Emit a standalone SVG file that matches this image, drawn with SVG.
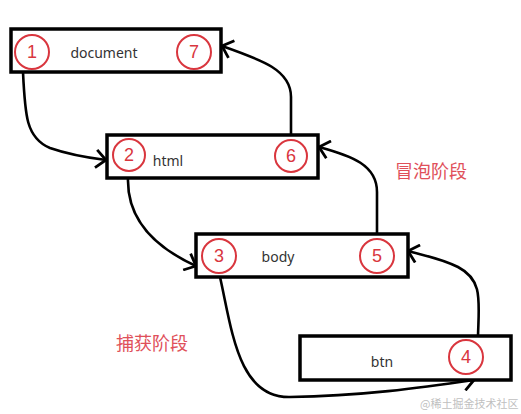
<svg xmlns="http://www.w3.org/2000/svg" width="521" height="414" viewBox="0 0 521 414">
<style>
.box{fill:#fff;stroke:#000;stroke-width:3.5}
.num{fill:none;stroke:#d9363e;stroke-width:2}
.numt{font-family:"Liberation Sans","Noto Sans",sans-serif;font-size:18px;fill:#d9363e;text-anchor:middle}
.lbl{font-family:"Noto Sans","Liberation Sans",sans-serif;font-size:14px;fill:#333;text-anchor:middle}
.zh{font-family:"Noto Sans CJK SC",sans-serif;font-size:18px;fill:#e0505a}
.wm{font-family:"Noto Sans CJK SC",sans-serif;font-size:11px;fill:#c0c0c0}
.edge{fill:none;stroke:#000;stroke-width:2.6;marker-end:url(#arr)}
</style>
<defs>
<marker id="arr" markerUnits="userSpaceOnUse" viewBox="0 0 20 20" refX="17" refY="10" markerWidth="20" markerHeight="20" orient="auto">
<path d="M7,1 L17,10 L7,19" fill="none" stroke="#000" stroke-width="2.8"/>
</marker>
</defs>
<rect width="521" height="414" fill="#fff"/>
<g id="connectors">
<path class="edge" d="M23,72 C25,115 26,138 50,148 C70,155 90,158 106,160"/>
<path class="edge" d="M128,178 C127,215 150,245 196,266"/>
<path class="edge" d="M220,277 C232,330 238,398 290,397 C360,396 420,388 474,380"/>
<path class="edge" d="M478,336 C479,300 483,280 458,267 C440,258 422,255 408,251"/>
<path class="edge" d="M377,234 L377,192 C377,165 352,156 319,147"/>
<path class="edge" d="M291,135 L291,97 C291,70 262,60 222,46"/>
</g>
<g id="document">
<rect class="box" x="11" y="29" width="210" height="43"/>
<circle class="num" cx="32" cy="52" r="17"/><text class="numt" x="32" y="58">1</text>
<text class="lbl" x="104" y="58">document</text>
<circle class="num" cx="194" cy="52" r="17"/><text class="numt" x="194" y="58">7</text>
</g>
<g id="html">
<rect class="box" x="107" y="135" width="211" height="43"/>
<circle class="num" cx="129" cy="155" r="16"/><text class="numt" x="129" y="161">2</text>
<text class="lbl" x="168" y="166">html</text>
<circle class="num" cx="291" cy="156" r="16"/><text class="numt" x="291" y="162">6</text>
</g>
<g id="body">
<rect class="box" x="196" y="234" width="212" height="43"/>
<circle class="num" cx="219" cy="256" r="17"/><text class="numt" x="219" y="262">3</text>
<text class="lbl" x="278" y="262">body</text>
<circle class="num" cx="377" cy="256" r="17"/><text class="numt" x="377" y="262">5</text>
</g>
<g id="btn">
<rect class="box" x="300" y="336" width="211" height="44"/>
<text class="lbl" x="382" y="367">btn</text>
<circle class="num" cx="466" cy="357" r="17"/><text class="numt" x="466" y="363">4</text>
</g>
<g id="labels">
<text class="zh" x="395" y="178">冒泡阶段</text>
<text class="zh" x="116" y="350">捕获阶段</text>
<text class="wm" x="420" y="408">@稀土掘金技术社区</text>
</g>
</svg>
